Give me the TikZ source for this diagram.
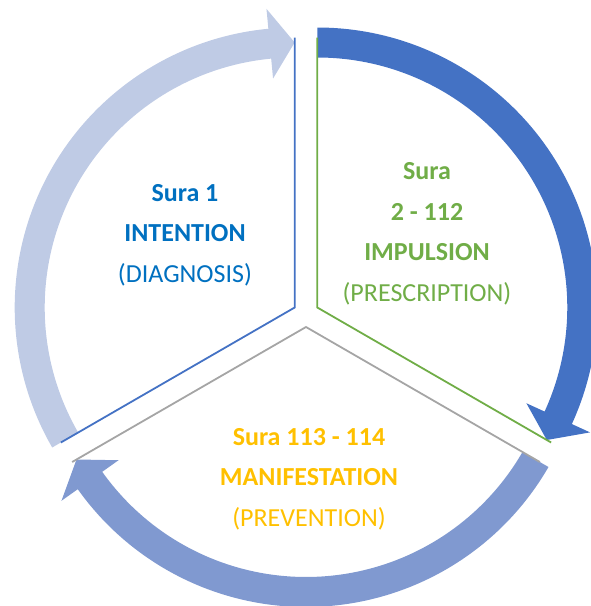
\documentclass[tikz,border=0pt]{standalone}
\usepackage{fontspec}
\setmainfont{Carlito}
\usetikzlibrary{calc}
\definecolor{paleblue}{HTML}{BFCBE5}
\definecolor{deepblue}{HTML}{4472C4}
\definecolor{midblue}{HTML}{8099D0}
\definecolor{textblue}{HTML}{0070C0}
\definecolor{leafgreen}{HTML}{70AD47}
\definecolor{gold}{HTML}{FFC000}
\definecolor{linegray}{HTML}{A5A5A5}
\newcommand{\cyclearrow}[4]{\fill[#4,shift={(#1)}] (#2:280pt)
  arc[start angle=#2,end angle=#3+5.4,radius=280pt] -- (#3+5.4:300pt) -- (#3:265pt)
  -- (#3+5.4:230pt) -- (#3+5.4:250pt) arc[start angle=#3+5.4,end angle=#2,radius=250pt] -- cycle;}

\begin{document}
\begin{tikzpicture}[x=1pt,y=1pt,
  lbl/.style={align=center,inner sep=0pt,font=\fontsize{26}{40.5}\selectfont},
  sep/.style={line width=1.8pt}]
\useasboundingbox (-306,-292) rectangle (284,314);
\coordinate (v1) at (-11.3,6.5);
\coordinate (v2) at (11.3,6.5);
\coordinate (v3) at (0,-13);
\cyclearrow{v1}{210}{90}{paleblue}
\cyclearrow{v2}{90}{-30}{deepblue}
\cyclearrow{v3}{-30}{-150}{midblue}
\draw[sep,deepblue] ($(v1)+(90:270pt)$) -- (v1) -- ($(v1)+(210:270pt)$);
\draw[sep,leafgreen] ($(v2)+(90:270pt)$) -- (v2) -- ($(v2)+(-30:270pt)$);
\draw[sep,linegray] ($(v3)+(210:270pt)$) -- (v3) -- ($(v3)+(-30:270pt)$);
\node[lbl,text=textblue] (intention) at (-121,79)
  {\textbf{Sura 1}\\\textbf{INTENTION}\\(DIAGNOSIS)};
\node[lbl,text=leafgreen] (impulsion) at (121,80)
  {\textbf{Sura}\\\textbf{2 - 112}\\\textbf{IMPULSION}\\(PRESCRIPTION)};
\node[lbl,text=gold] (manifestation) at (3,-165)
  {\textbf{Sura 113 - 114}\\\textbf{MANIFESTATION}\\(PREVENTION)};
\end{tikzpicture}
\end{document}
